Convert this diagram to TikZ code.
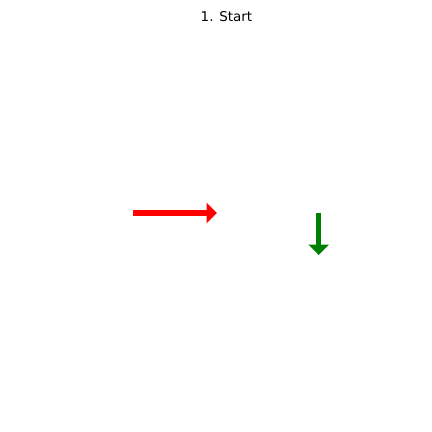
\documentclass[tikz,border=0pt]{standalone}
\usepackage{fontspec}
\setmainfont{DejaVu Sans}
\usetikzlibrary{arrows.meta}
\begin{document}
\begin{tikzpicture}[x=1pt,y=-1pt,
  arr/.style={line width=5.5pt, -{Triangle[length=10.5pt,width=20pt]}},
  titletext/.style={font=\fontsize{13.5}{16}\selectfont, inner sep=0pt}]
\useasboundingbox (0,0) rectangle (432,432);
\node[titletext] (title) at (226.5,17) {1. Start};
\coordinate (rs) at (133,213);
\coordinate (re) at (217,213);
\coordinate (gs) at (318.7,212.7);
\coordinate (ge) at (318.7,255);
\draw[arr, red] (rs) -- (re);
\draw[arr, color={rgb,255:red,0;green,128;blue,0}] (gs) -- (ge);
\end{tikzpicture}
\end{document}
